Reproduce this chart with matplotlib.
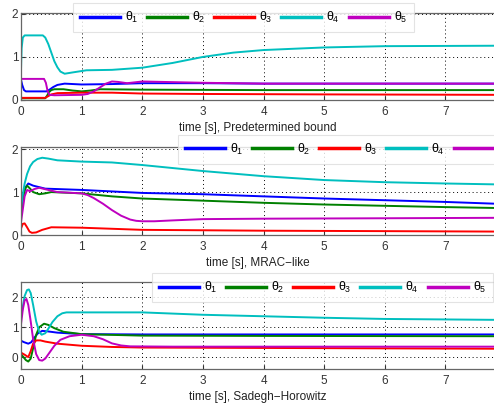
import matplotlib
matplotlib.use("Agg")
import matplotlib.pyplot as plt

plt.rcParams['font.family'] = ['Liberation Sans', 'DejaVu Sans']
plt.rcParams['mathtext.fontset'] = 'custom'
plt.rcParams['mathtext.rm'] = 'Liberation Sans'
plt.rcParams['mathtext.it'] = 'Liberation Sans'
plt.rcParams['mathtext.bf'] = 'Liberation Sans:bold'

labels = [r'$\theta_1$', r'$\theta_2$', r'$\theta_3$', r'$\theta_4$', r'$\theta_5$']
colors = ['#0000ff', '#008000', '#ff0000', '#00bfbf', '#bf00bf']
xlabels = ['time [s], Predetermined bound', 'time [s], MRAC\u2212like', 'time [s], Sadegh\u2212Horowitz']

# ---- Panel 1: Predetermined bound ----
p1_t1 = [0, 0.02, 0.05, 0.08, 0.42, 0.47, 0.53, 0.6, 0.72, 1.0, 1.5, 2.0, 3.0, 4.0, 5.0, 6.0, 7.8]
p1_th1 = [0.47, 0.35, 0.23, 0.2, 0.2, 0.24, 0.3, 0.35, 0.38, 0.36, 0.37, 0.39, 0.39, 0.38, 0.38, 0.38, 0.38]
p1_t2 = [0, 0.4, 0.43, 0.46, 0.5, 0.55, 0.7, 0.85, 1.0, 1.15, 1.3, 2.0, 4.0, 7.8]
p1_th2 = [0.04, 0.04, 0.1, 0.18, 0.23, 0.25, 0.25, 0.22, 0.2, 0.22, 0.25, 0.24, 0.23, 0.23]
p1_t3 = [0, 0.4, 0.45, 0.5, 0.6, 1.0, 1.5, 2.0, 3.0, 5.0, 7.8]
p1_th3 = [0.05, 0.05, 0.09, 0.13, 0.16, 0.17, 0.17, 0.15, 0.14, 0.13, 0.12]
p1_t4 = [0, 0.01, 0.03, 0.06, 0.36, 0.4, 0.45, 0.5, 0.55, 0.6, 0.65, 0.72, 0.85, 1.08, 1.5, 2.0, 2.5, 3.0, 3.5, 4.0, 5.0, 6.0, 7.8]
p1_th4 = [0.7, 1.2, 1.45, 1.5, 1.5, 1.45, 1.3, 1.1, 0.9, 0.76, 0.66, 0.61, 0.64, 0.69, 0.7, 0.75, 0.86, 1.0, 1.1, 1.16, 1.22, 1.25, 1.26]
p1_t5 = [0, 0.38, 0.41, 0.44, 0.47, 0.55, 1.0, 1.1, 1.2, 1.3, 1.4, 1.5, 1.6, 1.75, 2.0, 3.0, 4.0, 7.8]
p1_th5 = [0.49, 0.49, 0.4, 0.2, 0.12, 0.11, 0.12, 0.14, 0.2, 0.29, 0.38, 0.43, 0.42, 0.39, 0.43, 0.4, 0.38, 0.38]

# ---- Panel 2: MRAC-like ----
p2_t1 = [0, 0.03, 0.07, 0.12, 0.2, 0.4, 1.0, 2.0, 3.0, 4.0, 5.0, 6.0, 7.0, 7.8]
p2_th1 = [0.5, 0.8, 1.1, 1.2, 1.15, 1.08, 1.05, 0.98, 0.95, 0.9, 0.85, 0.81, 0.77, 0.73]
p2_t2 = [0, 0.03, 0.06, 0.1, 0.15, 0.2, 0.3, 0.4, 0.5, 1.0, 1.5, 2.0, 3.0, 4.0, 5.0, 6.0, 7.0, 7.8]
p2_th2 = [0.5, 0.8, 1.05, 1.15, 1.08, 1.0, 0.95, 0.97, 1.0, 0.97, 0.9, 0.85, 0.8, 0.75, 0.71, 0.68, 0.65, 0.63]
p2_t3 = [0, 0.03, 0.06, 0.1, 0.14, 0.18, 0.25, 0.35, 0.5, 1.0, 2.0, 4.0, 6.0, 7.8]
p2_th3 = [0.15, 0.26, 0.27, 0.18, 0.08, 0.05, 0.06, 0.12, 0.18, 0.17, 0.12, 0.1, 0.09, 0.08]
p2_t4 = [0, 0.03, 0.06, 0.1, 0.15, 0.2, 0.27, 0.35, 0.45, 0.6, 1.0, 1.5, 2.0, 3.0, 4.0, 5.0, 6.0, 7.0, 7.8]
p2_th4 = [0.6, 0.95, 1.2, 1.42, 1.6, 1.7, 1.77, 1.8, 1.78, 1.74, 1.71, 1.69, 1.63, 1.49, 1.37, 1.28, 1.23, 1.2, 1.18]
p2_t5 = [0, 0.03, 0.06, 0.1, 0.15, 0.22, 0.3, 0.45, 0.6, 1.0, 1.1, 1.2, 1.35, 1.5, 1.65, 1.8, 1.9, 2.0, 2.2, 2.5, 3.0, 4.0, 6.0, 7.8]
p2_th5 = [0.3, 0.6, 0.9, 1.05, 1.02, 1.07, 1.1, 1.05, 1.0, 0.97, 0.93, 0.86, 0.73, 0.58, 0.45, 0.36, 0.33, 0.32, 0.32, 0.34, 0.37, 0.38, 0.39, 0.4]

# ---- Panel 3: Sadegh-Horowitz ----
p3_t1 = [0, 0.05, 0.12, 0.17, 0.22, 0.28, 0.35, 0.45, 0.6, 1.0, 2.0, 4.0, 7.8]
p3_th1 = [0.55, 0.5, 0.45, 0.5, 0.65, 0.8, 0.88, 0.86, 0.82, 0.77, 0.76, 0.76, 0.76]
p3_t2 = [0, 0.04, 0.08, 0.12, 0.16, 0.2, 0.25, 0.3, 0.38, 0.45, 0.55, 0.7, 1.0, 2.0, 4.0, 7.8]
p3_th2 = [0.1, 0.0, -0.1, -0.15, -0.05, 0.3, 0.75, 1.0, 1.12, 1.08, 0.97, 0.85, 0.77, 0.72, 0.71, 0.7]
p3_t3 = [0, 0.06, 0.12, 0.16, 0.2, 0.25, 0.32, 0.4, 0.6, 1.0, 1.5, 2.0, 5.0, 7.8]
p3_th3 = [0.15, 0.08, 0.0, 0.2, 0.45, 0.56, 0.56, 0.52, 0.45, 0.38, 0.34, 0.32, 0.3, 0.28]
p3_t4 = [0, 0.03, 0.06, 0.1, 0.13, 0.16, 0.2, 0.25, 0.3, 0.34, 0.4, 0.45, 0.52, 0.6, 0.68, 0.75, 1.0, 2.0, 3.0, 4.0, 5.0, 6.0, 7.8]
p3_th4 = [1.3, 1.7, 2.05, 2.25, 2.27, 2.15, 1.75, 1.2, 0.85, 0.75, 0.8, 0.95, 1.18, 1.37, 1.47, 1.5, 1.5, 1.5, 1.42, 1.37, 1.32, 1.28, 1.25]
p3_t5 = [0, 0.03, 0.06, 0.09, 0.12, 0.16, 0.2, 0.25, 0.3, 0.35, 0.4, 0.47, 0.55, 0.65, 0.8, 1.0, 1.2, 1.35, 1.5, 1.65, 1.8, 2.5, 7.8]
p3_th5 = [1.1, 1.6, 1.9, 1.95, 1.75, 1.2, 0.6, 0.1, -0.1, -0.12, -0.05, 0.15, 0.38, 0.58, 0.7, 0.75, 0.7, 0.6, 0.46, 0.39, 0.36, 0.35, 0.35]

panels = [
    ([p1_t1, p1_t2, p1_t3, p1_t4, p1_t5], [p1_th1, p1_th2, p1_th3, p1_th4, p1_th5]),
    ([p2_t1, p2_t2, p2_t3, p2_t4, p2_t5], [p2_th1, p2_th2, p2_th3, p2_th4, p2_th5]),
    ([p3_t1, p3_t2, p3_t3, p3_t4, p3_t5], [p3_th1, p3_th2, p3_th3, p3_th4, p3_th5]),
]

W, H = 494, 405
fig = plt.figure(figsize=(W / 100, H / 100), dpi=100)

ax_px = [(13, 100), (147, 235), (282, 369)]
ylims = [(0, 2.02), (0, 2.05), (-0.4, 2.52)]
yticks = [[0, 1, 2], [0, 1, 2], [0, 1, 2]]
leg_pos = [(73, 3), (178, 135), (152, 273)]

for i, ((ts, ys), (top, bot), yl, yt, (lx, ly)) in enumerate(zip(panels, ax_px, ylims, yticks, leg_pos)):
    ax = fig.add_axes([21 / W, 1 - bot / H, 1 - 21 / W, (bot - top) / H])
    for t, y, c, lab in zip(ts, ys, colors, labels):
        ax.plot(t, y, color=c, lw=1.4, label=lab, solid_joinstyle='round')
    ax.set_xlim(0, 7.8)
    ax.set_ylim(*yl)
    ax.set_yticks(yt)
    ax.set_xticks(range(0, 8))
    ax.grid(True, color='black', linestyle=(0, (1, 3)), linewidth=0.7)
    ax.tick_params(direction='in', labelsize=8.5, colors='#333333', length=3, pad=2)
    ax.tick_params(axis='x', pad=4)
    for s in ax.spines.values():
        s.set_color('#666666')
        s.set_linewidth(0.9)
    ax.spines['right'].set_visible(False)
    ax.set_xlabel(xlabels[i], fontsize=8.5, color='#222222', labelpad=3)
    leg = ax.legend(loc='upper left', bbox_to_anchor=(lx / W, 1 - ly / H),
                    bbox_transform=fig.transFigure, ncol=5, fontsize=9,
                    frameon=True, fancybox=False, borderaxespad=0,
                    handlelength=3.2, columnspacing=0.7, handletextpad=0.4,
                    borderpad=0.55)
    leg.get_frame().set_edgecolor('#dddddd')
    leg.get_frame().set_linewidth(0.8)
    for h in leg.get_lines():
        h.set_linewidth(2.5)

fig.savefig('out.png', dpi=100)
